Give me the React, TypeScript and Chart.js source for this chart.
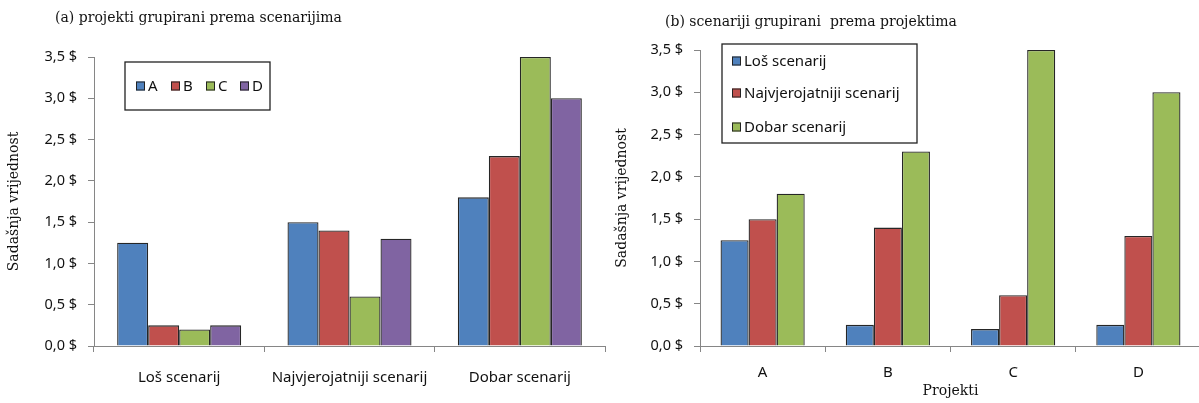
import React, { useEffect, useRef } from "react";
import { Chart, registerables } from "chart.js";

Chart.register(...registerables);

// ---- data ----
const scenarioLabels = ["Loš scenarij", "Najvjerojatniji scenarij", "Dobar scenarij"];
const projectLabels = ["A", "B", "C", "D"];

// values per project (left chart series), indexed by scenario
const projectA = [1.25, 1.5, 1.8];
const projectB = [0.25, 1.4, 2.3];
const projectC = [0.2, 0.6, 3.5];
const projectD = [0.25, 1.3, 3.0];

// values per scenario (right chart series), indexed by project
const losScenarij = [1.25, 0.25, 0.2, 0.25];
const najvjerojatnijiScenarij = [1.5, 1.4, 0.6, 1.3];
const dobarScenarij = [1.8, 2.3, 3.5, 3.0];

const yTicks = [0, 0.5, 1.0, 1.5, 2.0, 2.5, 3.0, 3.5];

const titleA = "(a) projekti grupirani prema scenarijima";
const titleB = "(b) scenariji grupirani  prema projektima";
const yTitle = "Sadašnja vrijednost";
const xTitleB = "Projekti";

const BLUE = "#4F81BD";
const RED = "#C0504D";
const GREEN = "#9BBB59";
const PURPLE = "#8064A2";

const SANS = "'Noto Sans', 'DejaVu Sans', sans-serif";
const SERIF = "'DejaVu Serif', 'Liberation Serif', serif";

const fmt = (v: number) => v.toFixed(1).replace(".", ",") + " $";

const decorPlugin = {
  id: "decor",
  afterDraw(chart: any, _args: any, opts: any) {
    const ctx = chart.ctx;
    ctx.save();
    // title
    ctx.fillStyle = "#111";
    ctx.font = `14px ${SERIF}`;
    ctx.textAlign = "left";
    ctx.textBaseline = "middle";
    ctx.fillText(opts.title, opts.titleX, opts.titleY);

    // legend box
    const b = opts.box;
    ctx.fillStyle = "#fff";
    ctx.fillRect(b.x, b.y, b.w, b.h);
    ctx.strokeStyle = "#222";
    ctx.lineWidth = 1.3;
    ctx.strokeRect(b.x, b.y, b.w, b.h);

    ctx.font = `15px ${SANS}`;
    chart.data.datasets.forEach((ds: any, i: number) => {
      const it = opts.items[i];
      ctx.fillStyle = ds.backgroundColor;
      ctx.fillRect(it.x, it.y - 4.5, 9, 9);
      ctx.strokeStyle = "#222";
      ctx.lineWidth = 1;
      ctx.strokeRect(it.x + 0.5, it.y - 4, 8, 8);
      ctx.fillStyle = "#111";
      ctx.fillText(ds.label, it.x + 12, it.y + 0.5);
    });
    ctx.restore();
  },
};

function makeOptions(cfg: {
  yWidth: number;
  yTitlePad: number;
  padTop: number;
  padRight: number;
  xTickPad: number;
  xTitle?: string;
  decor: any;
}) {
  return {
    responsive: false,
    animation: false as const,
    layout: { padding: { top: cfg.padTop, right: cfg.padRight, left: 0, bottom: 0 } },
    plugins: {
      legend: { display: false },
      tooltip: { enabled: false },
      title: { display: false },
      decor: cfg.decor,
    },
    scales: {
      x: {
        type: "category" as const,
        offset: true,
        grid: {
          display: true,
          drawOnChartArea: false,
          drawTicks: true,
          tickLength: 6,
          offset: true,
          color: "#868686",
        },
        border: { display: true, color: "#868686", width: 1 },
        ticks: {
          color: "#111",
          font: { family: SANS, size: 15 },
          padding: cfg.xTickPad,
          maxRotation: 0,
          autoSkip: false,
        },
        title: {
          display: !!cfg.xTitle,
          text: cfg.xTitle || "",
          color: "#111",
          font: { family: SERIF, size: 14 },
          padding: { top: 0, bottom: 3 },
        },
        afterFit(scale: any) {
          scale.height = 57;
        },
      },
      y: {
        min: 0,
        max: 3.5,
        afterBuildTicks(scale: any) {
          scale.ticks = yTicks.map((v) => ({ value: v }));
        },
        grid: {
          display: true,
          drawOnChartArea: false,
          drawTicks: true,
          tickLength: 6,
          color: "#868686",
        },
        border: { display: true, color: "#868686", width: 1 },
        ticks: {
          color: "#111",
          font: { family: SANS, size: 14.5 },
          padding: 11,
          callback: (v: any) => fmt(Number(v)),
        },
        title: {
          display: true,
          text: yTitle,
          color: "#111",
          font: { family: SERIF, size: 14 },
          padding: { top: cfg.yTitlePad, bottom: 0 },
        },
        afterFit(scale: any) {
          scale.width = cfg.yWidth;
        },
      },
    },
  };
}

function ds(label: string, data: number[], color: string, catPct: number) {
  return {
    label,
    data,
    backgroundColor: color,
    borderColor: "#262626",
    borderWidth: 1.3,
    categoryPercentage: catPct,
    barPercentage: 1,
  };
}

export default function App() {
  const leftRef = useRef<HTMLCanvasElement>(null);
  const rightRef = useRef<HTMLCanvasElement>(null);

  useEffect(() => {
    const left = new Chart(leftRef.current as HTMLCanvasElement, {
      type: "bar",
      data: {
        labels: scenarioLabels,
        datasets: [
          ds("A", projectA, BLUE, 0.728),
          ds("B", projectB, RED, 0.728),
          ds("C", projectC, GREEN, 0.728),
          ds("D", projectD, PURPLE, 0.728),
        ],
      },
      options: makeOptions({
        yWidth: 94,
        yTitlePad: 6,
        padTop: 57,
        padRight: 10,
        xTickPad: 17,
        decor: {
          title: titleA,
          titleX: 55,
          titleY: 18,
          box: { x: 125, y: 62, w: 145, h: 48 },
          items: [
            { x: 136, y: 86 },
            { x: 171, y: 86 },
            { x: 206, y: 86 },
            { x: 240, y: 86 },
          ],
        },
      }) as any,
      plugins: [decorPlugin],
    });

    const right = new Chart(rightRef.current as HTMLCanvasElement, {
      type: "bar",
      data: {
        labels: projectLabels,
        datasets: [
          ds("Loš scenarij", losScenarij, BLUE, 0.672),
          ds("Najvjerojatniji scenarij", najvjerojatnijiScenarij, RED, 0.672),
          ds("Dobar scenarij", dobarScenarij, GREEN, 0.672),
        ],
      },
      options: makeOptions({
        yWidth: 100,
        yTitlePad: 14,
        padTop: 50,
        padRight: 5,
        xTickPad: 12,
        xTitle: xTitleB,
        decor: {
          title: titleB,
          titleX: 65,
          titleY: 22,
          box: { x: 122, y: 44, w: 195, h: 99 },
          items: [
            { x: 132, y: 61 },
            { x: 132, y: 93 },
            { x: 132, y: 127 },
          ],
        },
      }) as any,
      plugins: [decorPlugin],
    });

    return () => {
      left.destroy();
      right.destroy();
    };
  }, []);

  return (
    <div
      style={{
        position: "fixed",
        left: 0,
        top: 0,
        width: 1199,
        height: 403,
        overflow: "hidden",
        background: "#fff",
      }}
    >
      <canvas
        ref={leftRef}
        width={615}
        height={403}
        style={{ position: "absolute", left: 0, top: 0, width: 615, height: 403 }}
      />
      <canvas
        ref={rightRef}
        width={606}
        height={403}
        style={{ position: "absolute", left: 600, top: 0, width: 606, height: 403 }}
      />
    </div>
  );
}
